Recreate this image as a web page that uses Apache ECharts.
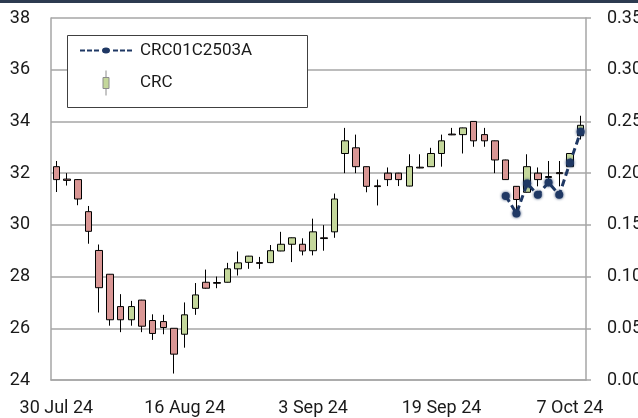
<!DOCTYPE html>
<html>
<head>
<meta charset="utf-8">
<script src="https://cdn.jsdelivr.net/npm/echarts@6/dist/echarts.min.js"></script>
<style>
html,body{margin:0;padding:0;background:#fff;}
#main{width:638px;height:418px;}
</style>
</head>
<body>
<div id="main"></div>
<script>
var dates = ['30 Jul 24','31 Jul 24','1 Aug 24','2 Aug 24','5 Aug 24','6 Aug 24','7 Aug 24','8 Aug 24','9 Aug 24','12 Aug 24',
    '13 Aug 24','14 Aug 24','16 Aug 24','19 Aug 24','20 Aug 24','21 Aug 24','22 Aug 24','23 Aug 24','26 Aug 24','27 Aug 24',
    '28 Aug 24','29 Aug 24','30 Aug 24','2 Sep 24','3 Sep 24','4 Sep 24','5 Sep 24','6 Sep 24','9 Sep 24','10 Sep 24',
    '11 Sep 24','12 Sep 24','13 Sep 24','16 Sep 24','17 Sep 24','18 Sep 24','19 Sep 24','20 Sep 24','23 Sep 24','24 Sep 24',
    '25 Sep 24','26 Sep 24','27 Sep 24','30 Sep 24','1 Oct 24','2 Oct 24','3 Oct 24','4 Oct 24','7 Oct 24','8 Oct 24'];

// CRC: open, close, low, high
var crcOpen  = [32.25,31.77,31.75,30.51,29.01,28.09,26.84,26.33,27.09,26.30,26.26,26.00,25.77,26.77,27.78,27.77,27.78,28.30,28.55,28.54,
    28.54,28.99,29.25,29.25,29.00,29.50,29.73,32.76,32.98,32.25,31.51,32.00,32.00,31.50,32.23,32.25,32.76,33.51,33.49,34.00,
    33.49,33.25,32.51,31.49,31.26,32.00,31.87,32.02,32.25,33.45];
var crcClose = [31.75,31.72,31.00,29.75,27.57,26.33,26.33,26.84,26.08,25.80,26.03,25.00,26.52,27.29,27.55,27.74,28.30,28.53,28.79,28.51,
    29.00,29.25,29.50,28.99,29.73,29.47,31.00,33.25,32.25,31.49,31.48,31.75,31.75,32.25,32.20,32.76,33.25,33.48,33.75,33.25,
    33.25,32.51,31.75,30.98,32.25,31.75,31.83,31.98,32.76,33.85];
var crcLow   = [31.27,31.52,30.76,29.27,26.61,26.10,25.85,26.10,25.85,25.55,25.77,24.25,25.25,26.52,27.53,27.55,27.77,28.04,28.30,28.30,
    28.52,28.98,28.56,28.82,28.82,29.00,29.50,32.00,32.00,31.26,30.75,31.50,31.50,31.49,32.19,32.25,32.25,33.47,32.76,33.02,
    33.02,32.00,31.74,30.50,31.25,31.49,31.55,31.49,32.25,33.30];
var crcHigh  = [32.47,32.00,31.77,30.73,29.24,28.10,27.32,27.06,27.10,26.54,26.52,26.00,27.00,27.75,28.27,28.00,28.53,28.97,28.80,28.76,
    29.22,29.73,29.51,29.48,30.24,29.99,31.21,33.75,33.49,32.26,31.75,32.22,32.01,32.73,32.73,32.98,33.49,33.75,33.76,34.00,
    33.75,33.26,32.52,31.50,32.73,32.22,32.47,32.47,32.77,34.22];

// CRC01C2503A (right axis)
var bondDates = ['27 Sep 24','30 Sep 24','1 Oct 24','2 Oct 24','3 Oct 24','4 Oct 24','7 Oct 24','8 Oct 24'];
var bondValues = [0.178,0.161,0.190,0.179,0.191,0.179,0.210,0.240];

var leftTicks = {min:24, max:38, interval:2};
var rightTicks = {min:0, max:0.35, interval:0.05};

var candleData = [];
for (var i = 0; i < dates.length; i++) {
    candleData.push([crcOpen[i], crcClose[i], crcLow[i], crcHigh[i]]);
}
var bondData = [];
for (var j = 0; j < bondDates.length; j++) {
    bondData.push([bondDates[j], bondValues[j]]);
}

var navy = '#1f3864';
var gridColor = '#a6a6a6';
var txt = '#1a1a1a';
var font = 'Roboto';

var chart = echarts.init(document.getElementById('main'));
var option = {
    backgroundColor: '#fff',
    animation: false,
    textStyle: {fontFamily: font},
    graphic: [
        {type: 'rect', left: 0, top: 0, shape: {width: 638, height: 3}, style: {fill: '#2d3b50'}, silent: true},
        {type: 'rect', left: 67, top: 35, z: 10, shape: {x: 0, y: 0, width: 240, height: 72},
            style: {fill: '#fff', stroke: '#404040', lineWidth: 1}, silent: true}
    ],
    legend: {
        orient: 'vertical',
        left: 80,
        top: 42,
        z: 20,
        itemWidth: 52,
        itemHeight: 25,
        itemGap: 11,
        padding: 0,
        symbolKeepAspect: true,
        textStyle: {fontFamily: font, fontSize: 17, color: txt, padding: [0, 0, 0, 3]},
        data: [
            {name: 'CRC01C2503A',
                icon: 'path://M0 2H5V4H0Z M7 2H12V4H7Z M14 2H19V4H14Z M22 3A4 3 0 1 0 30 3A4 3 0 1 0 22 3Z M33 2H38V4H33Z M40 2H45V4H40Z M47 2H52V4H47Z',
                itemStyle: {color: navy, borderWidth: 0}},
            {name: 'CRC',
                icon: 'path://M3 0L3 7M0 7H6V18H0Z M3 18L3 25',
                itemStyle: {color: '#c4d79b', borderColor: '#8c8c8c', borderWidth: 1}}
        ]
    },
    grid: {left: 51, right: 52, top: 18, bottom: 38, containLabel: false, outerBoundsMode: 'none'},
    xAxis: {
        type: 'category',
        data: dates,
        boundaryGap: true,
        axisLine: {show: true, lineStyle: {color: gridColor, width: 1.5}},
        axisTick: {show: false},
        axisLabel: {interval: 11, margin: 19, fontSize: 18, color: txt, fontFamily: font},
        splitLine: {show: false}
    },
    yAxis: [
        {
            type: 'value',
            min: leftTicks.min, max: leftTicks.max, interval: leftTicks.interval,
            axisLine: {show: true, lineStyle: {color: gridColor, width: 1.5}},
            axisTick: {show: false},
            axisLabel: {margin: 21, fontSize: 18, color: txt, fontFamily: font},
            splitLine: {show: true, lineStyle: {color: gridColor, width: 1.5}}
        },
        {
            type: 'value',
            position: 'right',
            min: rightTicks.min, max: rightTicks.max, interval: rightTicks.interval,
            axisLine: {show: true, lineStyle: {color: gridColor, width: 1.5}},
            axisTick: {show: true, length: 5, lineStyle: {color: gridColor, width: 1.5}},
            axisLabel: {margin: 21, fontSize: 18, color: txt, fontFamily: font,
                formatter: function (v) { return v.toFixed(2); }},
            splitLine: {show: false}
        }
    ],
    series: [
        {
            name: 'CRC',
            type: 'candlestick',
            data: candleData,
            barWidth: 7,
            itemStyle: {
                color: '#c4d79b',
                color0: '#d99694',
                borderColor: '#000',
                borderColor0: '#000',
                borderWidth: 1
            }
        },
        {
            name: 'CRC01C2503A',
            type: 'line',
            yAxisIndex: 1,
            data: bondData,
            symbol: 'circle',
            symbolSize: 8,
            showSymbol: true,
            showAllSymbol: true,
            z: 5,
            lineStyle: {color: navy, width: 3, type: [7, 4]},
            itemStyle: {color: navy, shadowColor: navy, shadowBlur: 3}
        }
    ]
};
chart.setOption(option);
</script>
</body>
</html>
